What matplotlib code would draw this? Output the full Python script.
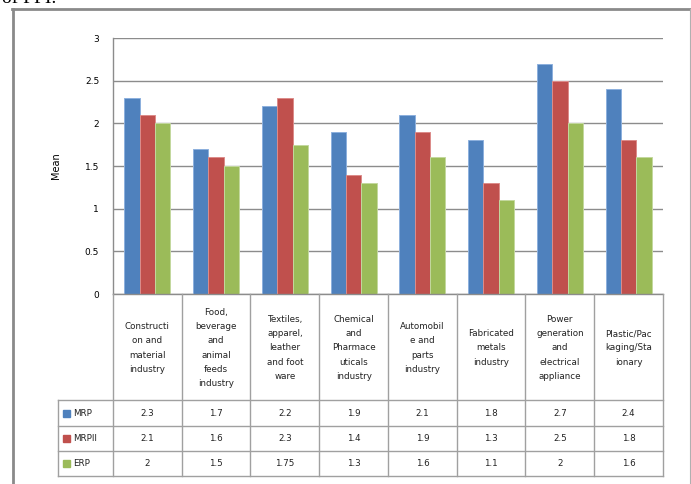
import numpy as np
import matplotlib
matplotlib.use('Agg')
import matplotlib.pyplot as plt
from matplotlib.patches import Rectangle

# Datos por sector
categorias = [
    "Constructi\non and\nmaterial\nindustry",
    "Food,\nbeverage\nand\nanimal\nfeeds\nindustry",
    "Textiles,\napparel,\nleather\nand foot\nware",
    "Chemical\nand\nPharmace\nuticals\nindustry",
    "Automobil\ne and\nparts\nindustry",
    "Fabricated\nmetals\nindustry",
    "Power\ngeneration\nand\nelectrical\nappliance",
    "Plastic/Pac\nkaging/Sta\nionary",
]
series = ["MRP", "MRPII", "ERP"]
mrp = [2.3, 1.7, 2.2, 1.9, 2.1, 1.8, 2.7, 2.4]
mrpii = [2.1, 1.6, 2.3, 1.4, 1.9, 1.3, 2.5, 1.8]
erp = [2, 1.5, 1.75, 1.3, 1.6, 1.1, 2, 1.6]
etiquetas_tabla = [
    ["2.3", "1.7", "2.2", "1.9", "2.1", "1.8", "2.7", "2.4"],
    ["2.1", "1.6", "2.3", "1.4", "1.9", "1.3", "2.5", "1.8"],
    ["2", "1.5", "1.75", "1.3", "1.6", "1.1", "2", "1.6"],
]
yticks = [0, 0.5, 1, 1.5, 2, 2.5, 3]

colores = ["#4F81BD", "#C0504D", "#9BBB59"]
bordes = ["#8DB0DD", "#DC8C8A", "#C3D89E"]
gris = "#A0A0A0"
fuente = "DejaVu Sans"

W, H = 691, 484
fig = plt.figure(figsize=(W / 100, H / 100), dpi=100)

# geometria en pixeles
x0, x1 = 113, 663
y_top, y_cero = 38, 294
fila_tabla = [294, 400, 426, 451, 476]
x_leyenda = 58

ax = fig.add_axes([x0 / W, 1 - y_cero / H, (x1 - x0) / W, (y_cero - y_top) / H])
n = len(categorias)
x = np.arange(n)
ancho = 1 / 4.5
for i, vals in enumerate([mrp, mrpii, erp]):
    ax.bar(x + (i - 1) * ancho, vals, ancho, color=colores[i],
           edgecolor=bordes[i], linewidth=0.7, zorder=3)
ax.set_xlim(-0.5, n - 0.5)
ax.set_ylim(0, 3)
ax.set_yticks(yticks)
ax.set_yticklabels([f"{t:g}" for t in yticks], fontsize=6.5, family=fuente)
ax.tick_params(axis='y', length=0, pad=10)
ax.set_xticks([])
ax.yaxis.grid(True, color="#8C8C8C", linewidth=1, zorder=0)
for s in ["top", "right", "bottom"]:
    ax.spines[s].set_visible(False)
ax.spines["left"].set_color("#8C8C8C")
ax.spines["left"].set_linewidth(1)
ax.set_ylabel("Mean", fontsize=7, family=fuente, labelpad=17)

# capa superior en pixeles para la tabla y el marco
ov = fig.add_axes([0, 0, 1, 1])
ov.set_xlim(0, W)
ov.set_ylim(H, 0)
ov.axis('off')

# marco del grafico
ov.plot([13, 13], [9, H + 5], color="#8A8A8A", linewidth=2)
ov.plot([12, 690], [9, 9], color="#8A8A8A", linewidth=2)
ov.plot([690, 690], [9, H + 5], color="#B0B0B0", linewidth=0.8)
ov.text(2, 3, "of PPI.", fontsize=14, family="Liberation Serif", va="baseline", ha="left")

col_w = (x1 - x0) / n
cols = [x0 + k * col_w for k in range(n + 1)]

# lineas de la tabla
ov.plot([x0, x1], [y_cero, y_cero], color="#8C8C8C", linewidth=1)
for cx in cols:
    ov.plot([cx, cx], [y_cero, fila_tabla[-1]], color=gris, linewidth=1)
for fy in fila_tabla[1:]:
    ov.plot([x_leyenda, x1], [fy, fy], color=gris, linewidth=1)
ov.plot([x_leyenda, x_leyenda], [fila_tabla[1], fila_tabla[-1]], color=gris, linewidth=1)

# encabezados
for k, cat in enumerate(categorias):
    ov.text(cols[k] + col_w / 2, (fila_tabla[0] + fila_tabla[1]) / 2 + 1, cat,
            ha="center", va="center", fontsize=6.3, family=fuente,
            linespacing=1.75, color="#222222")

# filas de valores
for r in range(3):
    yc = (fila_tabla[r + 1] + fila_tabla[r + 2]) / 2
    ov.add_patch(Rectangle((63, yc - 3.5), 7, 7, color=colores[r]))
    ov.text(73, yc, series[r], ha="left", va="center", fontsize=6.3,
            family=fuente, color="#222222")
    for k in range(n):
        ov.text(cols[k] + col_w / 2, yc, etiquetas_tabla[r][k], ha="center",
                va="center", fontsize=6.3, family=fuente, color="#222222")

fig.savefig("out.png", dpi=100)
